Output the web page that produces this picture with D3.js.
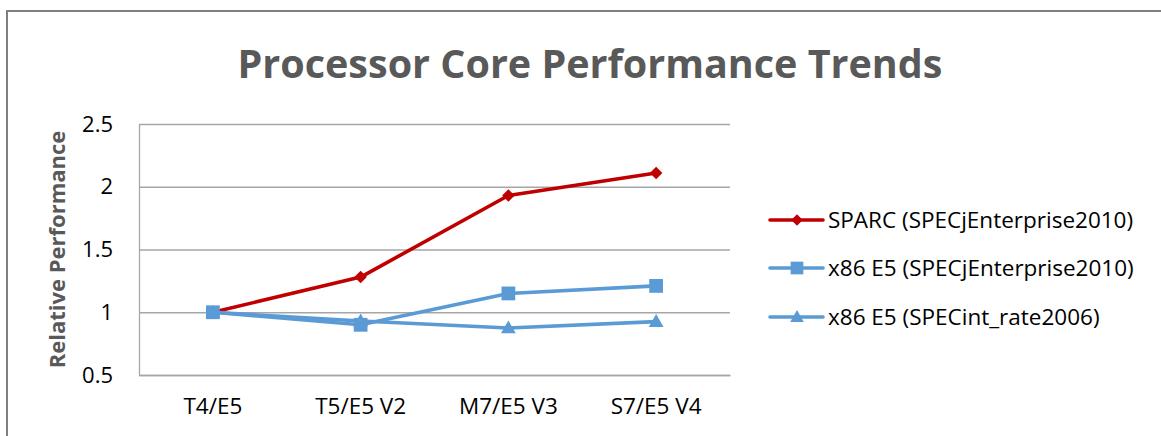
<!DOCTYPE html>
<html>
<head>
<meta charset="utf-8">
<script src="https://cdn.jsdelivr.net/npm/d3@7"></script>
<style>
  body { margin: 0; background: #fff; }
  text { font-family: "Open Sans", "Noto Sans", sans-serif; }
</style>
</head>
<body>
<div id="chart"></div>
<script>
// values
var categories = ["T4/E5", "T5/E5 V2", "M7/E5 V3", "S7/E5 V4"];
var sparcEnt = [1.0, 1.28, 1.93, 2.11];
var x86Ent = [1.0, 0.90, 1.15, 1.21];
var x86Int = [1.0, 0.93, 0.875, 0.925];
var seriesNames = ["SPARC (SPECjEnterprise2010)", "x86 E5 (SPECjEnterprise2010)", "x86 E5 (SPECint_rate2006)"];
var yTicks = [0.5, 1, 1.5, 2, 2.5];

var width = 1161, height = 436;
var plot = {left: 139, right: 730, top: 124, bottom: 375};

// diamond = square turned 45 degrees (excel style, not the tall d3 diamond)
var series = [
  {name: seriesNames[0], values: sparcEnt, color: "#c00000", symbol: d3.symbolSquare, size: 78, rot: 45, dy: 0},
  {name: seriesNames[1], values: x86Ent, color: "#5b9bd5", symbol: d3.symbolSquare, size: 190, rot: 0, dy: 0},
  {name: seriesNames[2], values: x86Int, color: "#5b9bd5", symbol: d3.symbolTriangle, size: 95, rot: 0, dy: 1}
];

var svg = d3.select("#chart").append("svg")
    .attr("width", width)
    .attr("height", height);

svg.append("rect")
    .attr("width", width).attr("height", height)
    .style("fill", "#fff");

// outer chart border
svg.append("rect")
    .attr("x", 7).attr("y", 11)
    .attr("width", width + 20).attr("height", height + 20)
    .style("fill", "none")
    .style("stroke", "#7f7f7f")
    .style("stroke-width", 2);

svg.append("text")
    .attr("x", 590).attr("y", 78)
    .attr("text-anchor", "middle")
    .style("font-size", "39.5px")
    .style("font-weight", "bold")
    .style("fill", "#595959")
    .text("Processor Core Performance Trends");

var x = d3.scaleBand()
    .domain(categories)
    .range([plot.left, plot.right]);

var y = d3.scaleLinear()
    .domain([0.5, 2.5])
    .range([plot.bottom, plot.top]);

// horizontal grid
svg.append("g")
    .attr("class", "grid")
    .attr("transform", "translate(" + plot.left + ",0)")
    .call(d3.axisLeft(y).tickValues(yTicks).tickSize(-(plot.right - plot.left)).tickFormat(""))
    .call(function(g) {
      g.select(".domain").remove();
      g.selectAll("line").style("stroke", "#a6a6a6").style("stroke-width", 1.3);
    });

// y axis
svg.append("g")
    .attr("class", "y axis")
    .attr("transform", "translate(" + plot.left + ",0)")
    .call(d3.axisLeft(y).tickValues(yTicks).tickSize(0).tickPadding(26).tickFormat(d3.format("")))
    .call(function(g) {
      g.select(".domain").style("stroke", "#a6a6a6").style("stroke-width", 1.3);
      g.selectAll("text")
        .style("font-family", "'Open Sans', sans-serif")
        .style("font-size", "22px")
        .style("fill", "#000");
    });

// x axis
svg.append("g")
    .attr("class", "x axis")
    .attr("transform", "translate(0," + plot.bottom + ")")
    .call(d3.axisBottom(x).tickSize(0).tickPadding(23))
    .call(function(g) {
      g.select(".domain").style("stroke", "#a6a6a6").style("stroke-width", 1.3);
      g.selectAll("text")
        .style("font-family", "'Open Sans', sans-serif")
        .style("font-size", "22.5px")
        .style("fill", "#000");
    });

svg.append("text")
    .attr("transform", "translate(65," + ((plot.top + plot.bottom) / 2) + ") rotate(-90)")
    .attr("text-anchor", "middle")
    .style("font-size", "22px")
    .style("font-weight", "bold")
    .style("fill", "#595959")
    .text("Relative Performance");

var cx = function(i) { return x(categories[i]) + x.bandwidth() / 2; };

var line = d3.line()
    .x(function(d, i) { return cx(i); })
    .y(function(d) { return y(d); });

series.forEach(function(s) {
  var g = svg.append("g");
  g.append("path")
    .datum(s.values)
    .attr("d", line)
    .style("fill", "none")
    .style("stroke", s.color)
    .style("stroke-width", 3.6)
    .style("stroke-linejoin", "round");
  g.selectAll(".pt")
    .data(s.values)
    .enter().append("path")
      .attr("class", "pt")
      .attr("d", d3.symbol().type(s.symbol).size(s.size))
      .attr("transform", function(d, i) {
        return "translate(" + cx(i) + "," + (y(d) + s.dy) + ") rotate(" + s.rot + ")";
      })
      .style("fill", s.color);
});

// legend
var legendY = [220, 268, 317];
var legend = svg.selectAll(".legend")
    .data(series)
    .enter().append("g")
      .attr("class", "legend")
      .attr("transform", function(d, i) { return "translate(770," + legendY[i] + ")"; });

legend.append("line")
    .attr("x1", 0).attr("x2", 53)
    .style("stroke", function(d) { return d.color; })
    .style("stroke-width", 3.6)
    .style("stroke-linecap", "round");

legend.append("path")
    .attr("d", function(d) { return d3.symbol().type(d.symbol).size(d.size * 0.85)(); })
    .attr("transform", function(d) { return "translate(27," + d.dy + ") rotate(" + d.rot + ")"; })
    .style("fill", function(d) { return d.color; });

legend.append("text")
    .attr("x", 58).attr("dy", "0.35em")
    .style("font-size", "22.5px")
    .style("fill", "#000")
    .text(function(d) { return d.name; });
</script>
</body>
</html>
